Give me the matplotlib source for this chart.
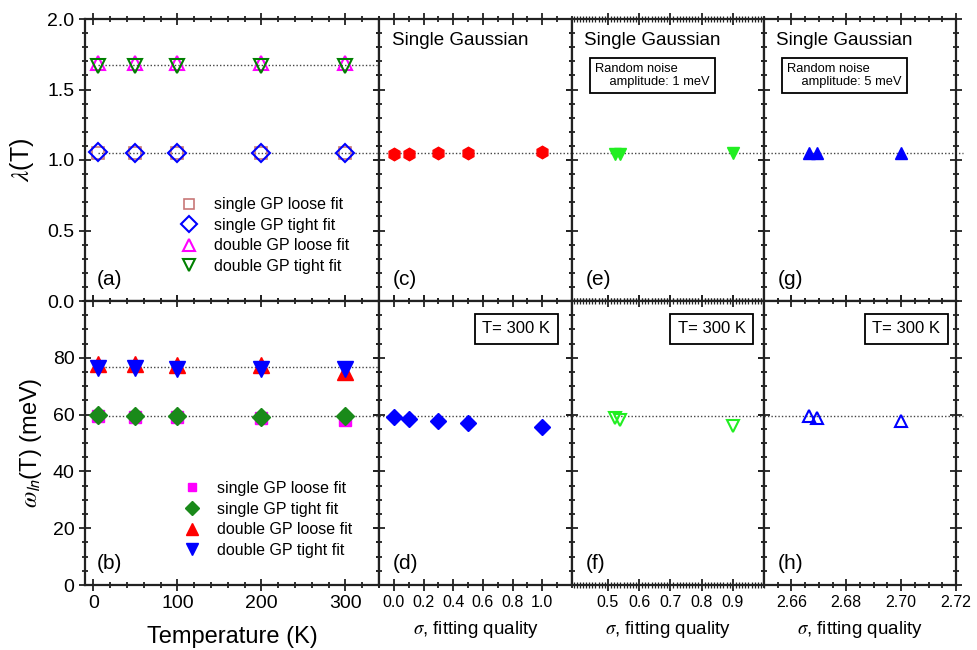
import matplotlib
matplotlib.use("Agg")
import matplotlib.pyplot as plt
from matplotlib.ticker import MultipleLocator, FixedLocator

plt.rcParams['font.family'] = ['Liberation Sans', 'DejaVu Sans']
plt.rcParams['mathtext.fontset'] = 'stix'

# ---------------- data ----------------
T = [5, 50, 100, 200, 300]
lam_single_loose = [1.05, 1.05, 1.05, 1.05, 1.05]
lam_single_tight = [1.055, 1.052, 1.05, 1.048, 1.048]
lam_double_loose = [1.69, 1.69, 1.69, 1.69, 1.69]
lam_double_tight = [1.67, 1.67, 1.665, 1.665, 1.665]

w_single_loose = [59.5, 59.3, 59.0, 58.8, 58.0]
w_single_tight = [59.9, 59.6, 59.4, 59.3, 59.4]
w_double_loose = [77.9, 77.7, 77.6, 77.4, 75.0]
w_double_tight = [76.5, 76.4, 76.2, 76.2, 76.2]

lam_ref = [1.05, 1.675]
w_ref = [59.6, 76.6]

sigma_c = [0.0, 0.1, 0.3, 0.5, 1.0]
lam_c = [1.045, 1.045, 1.047, 1.048, 1.058]
w_d = [59.2, 58.6, 57.8, 56.9, 55.5]

sigma_e = [0.523, 0.54, 0.90]
lam_e = [1.045, 1.045, 1.05]
w_f = [58.8, 58.2, 56.0]

sigma_g = [2.6665, 2.6695, 2.70]
lam_g = [1.053, 1.053, 1.053]
w_h = [59.6, 58.9, 57.6]

legend_labels = ["single GP loose fit", "single GP tight fit",
                 "double GP loose fit", "double GP tight fit"]

# ---------------- layout ----------------
W, H = 978, 650
fig = plt.figure(figsize=(W / 100, H / 100), dpi=100)

def fx(px):
    return px / W

def fy(py):
    return 1 - py / H

xs = [85, 379, 572, 764, 956]
ytop, ymid, ybot = 19, 301, 585

axes = {}
names_top = ['a', 'c', 'e', 'g']
names_bot = ['b', 'd', 'f', 'h']
for i in range(4):
    l, r = fx(xs[i]), fx(xs[i + 1])
    axes[names_top[i]] = fig.add_axes([l, fy(ymid), r - l, fy(ytop) - fy(ymid)])
    axes[names_bot[i]] = fig.add_axes([l, fy(ybot), r - l, fy(ymid) - fy(ybot)])

edge = '#222222'
for ax in axes.values():
    for s in ax.spines.values():
        s.set_linewidth(1.6)
        s.set_color(edge)
    ax.tick_params(which='both', direction='inout', top=True, right=True,
                   color=edge, width=1.3)
    ax.tick_params(which='major', length=8)
    ax.tick_params(which='minor', length=5)

# y settings
for k in names_top:
    ax = axes[k]
    ax.set_ylim(0, 2.0)
    ax.yaxis.set_major_locator(MultipleLocator(0.5))
    ax.yaxis.set_minor_locator(MultipleLocator(0.1))
for k in names_bot:
    ax = axes[k]
    ax.set_ylim(0, 100)
    ax.yaxis.set_major_locator(FixedLocator([0, 20, 40, 60, 80]))
    ax.yaxis.set_minor_locator(MultipleLocator(5))

# x settings
xcfg = {
    'a': ((-10, 340), 100, 20), 'b': ((-10, 340), 100, 20),
    'c': ((-0.1, 1.2), 0.2, 0.1), 'd': ((-0.1, 1.2), 0.2, 0.1),
    'e': ((0.385, 1.0), 0.1, 0.01), 'f': ((0.385, 1.0), 0.1, 0.01),
    'g': ((2.65, 2.72), 0.02, 0.005), 'h': ((2.65, 2.72), 0.02, 0.005),
}
for k, (lim, maj, mnr) in xcfg.items():
    ax = axes[k]
    ax.set_xlim(*lim)
    ax.xaxis.set_major_locator(MultipleLocator(maj))
    ax.xaxis.set_minor_locator(MultipleLocator(mnr))

for k in ['c', 'd']:
    axes[k].xaxis.set_major_locator(FixedLocator([0.0, 0.2, 0.4, 0.6, 0.8, 1.0]))
for k in ['e', 'f']:
    axes[k].xaxis.set_major_locator(FixedLocator([0.5, 0.6, 0.7, 0.8, 0.9]))
    axes[k].tick_params(axis='x', which='minor', width=0.9, length=4)

for k in names_top:
    axes[k].tick_params(labelbottom=False)
for k in ['c', 'e', 'g', 'd', 'f', 'h']:
    axes[k].tick_params(labelleft=False)

axes['a'].tick_params(labelsize=14)
axes['b'].tick_params(labelsize=14)
for k in ['d', 'f', 'h']:
    axes[k].tick_params(labelsize=11.5)
axes['d'].xaxis.set_major_formatter(plt.FormatStrFormatter('%.1f'))
axes['f'].xaxis.set_major_formatter(plt.FormatStrFormatter('%.1f'))
axes['h'].xaxis.set_major_formatter(plt.FormatStrFormatter('%.2f'))
axes['a'].yaxis.set_major_formatter(plt.FormatStrFormatter('%.1f'))

# ---------------- reference dotted lines ----------------
dot = dict(color='#444444', linestyle=(0, (1, 1.5)), linewidth=1.0, zorder=1)
axes['a'].plot([T[0], 361], [lam_ref[1]] * 2, clip_on=False, **dot)
axes['a'].plot([T[0], 340], [lam_ref[0]] * 2, **dot)
axes['c'].axhline(lam_ref[0], **dot)
axes['e'].axhline(lam_ref[0], **dot)
axes['g'].plot([2.65, 2.7225], [lam_ref[0]] * 2, clip_on=False, **dot)

axes['b'].plot([T[0], 351], [w_ref[1]] * 2, clip_on=False, **dot)
axes['b'].plot([T[0], 340], [w_ref[0]] * 2, **dot)
axes['d'].axhline(w_ref[0], **dot)
axes['f'].axhline(w_ref[0], **dot)
axes['h'].plot([2.65, 2.7225], [w_ref[0]] * 2, clip_on=False, **dot)

# ---------------- panel (a) ----------------
ax = axes['a']
h1, = ax.plot(T, lam_single_loose, 's', ms=9, mfc='none', mec='#c87878', mew=1.2, ls='none')
h2, = ax.plot(T, lam_single_tight, 'D', ms=9.5, mfc='none', mec='#0000ff', mew=1.5, ls='none')
h3, = ax.plot(T, lam_double_loose, '^', ms=10, mfc='none', mec='#ff00ff', mew=1.5, ls='none')
h4, = ax.plot(T, lam_double_tight, 'v', ms=10, mfc='none', mec='#008000', mew=1.5, ls='none')
ax.legend([h1, h2, h3, h4], legend_labels, loc='lower left',
          bbox_to_anchor=(0.25, 0.045), frameon=False, fontsize=11.5,
          handletextpad=0.6, labelspacing=0.35, markerscale=0.85)
ax.set_ylabel(r'$\lambda$(T)', fontsize=18, labelpad=8)

# ---------------- panel (b) ----------------
ax = axes['b']
g1, = ax.plot(T, w_single_loose, 's', ms=8, color='#ff00ff', ls='none')
g2, = ax.plot(T, w_single_tight, 'D', ms=9.5, color='#1a8a1a', ls='none')
g3, = ax.plot(T, w_double_loose, '^', ms=11, color='#ff0000', ls='none')
g4, = ax.plot(T, w_double_tight, 'v', ms=11, color='#0000ff', ls='none')
ax.legend([g1, g2, g3, g4], legend_labels, loc='lower left',
          bbox_to_anchor=(0.26, 0.045), frameon=False, fontsize=11.5,
          handletextpad=0.6, labelspacing=0.35, markerscale=0.8)
ax.set_ylabel(r'$\omega_{\mathsf{ln}}$(T) (meV)', fontsize=17, labelpad=6)
ax.set_xlabel('Temperature (K)', fontsize=17, labelpad=10)

# ---------------- panels (c)-(h) ----------------
axes['c'].plot(sigma_c, lam_c, 'h', ms=9, color='#ff0000', ls='none')
axes['d'].plot(sigma_c, w_d, 'D', ms=8, color='#0000ff', ls='none')
axes['e'].plot(sigma_e, lam_e, 'v', ms=8, color='#22ee22', ls='none')
axes['f'].plot(sigma_e, w_f, 'v', ms=8, mfc='none', mec='#22ee22', mew=1.5, ls='none')
axes['g'].plot(sigma_g, lam_g, '^', ms=9, color='#0000ff', ls='none')
axes['h'].plot(sigma_g, w_h, '^', ms=8, mfc='none', mec='#0000ff', mew=1.5, ls='none')

for k in ['d', 'f', 'h']:
    axes[k].set_xlabel(r'$\sigma$, fitting quality', fontsize=13.5, labelpad=6)

for k in ['c', 'e', 'g']:
    axes[k].text(0.065, 0.925, 'Single Gaussian', transform=axes[k].transAxes,
                 fontsize=13.5, va='center', ha='left')

noise = {'e': '1', 'g': '5'}
for k, amp in noise.items():
    axes[k].text(0.12, 0.80, 'Random noise\n    amplitude: %s meV' % amp,
                 transform=axes[k].transAxes, fontsize=9.3, va='center', ha='left',
                 linespacing=1.1,
                 bbox=dict(boxstyle='square,pad=0.4', fc='white', ec='black', lw=1.3))

tbox_x = {'d': 0.888, 'f': 0.904, 'h': 0.919}
for k, xr in tbox_x.items():
    axes[k].text(xr, 0.903, 'T= 300 K', transform=axes[k].transAxes,
                 fontsize=12, va='center', ha='right',
                 bbox=dict(boxstyle='square,pad=0.45', fc='white', ec='black', lw=1.3))

for k in ['a', 'b', 'c', 'd', 'e', 'f', 'g', 'h']:
    x0 = 0.04 if k in ('a', 'b') else 0.07
    axes[k].text(x0, 0.075, '(%s)' % k, transform=axes[k].transAxes,
                 fontsize=15, va='center', ha='left')

fig.savefig('out.png', dpi=100)
